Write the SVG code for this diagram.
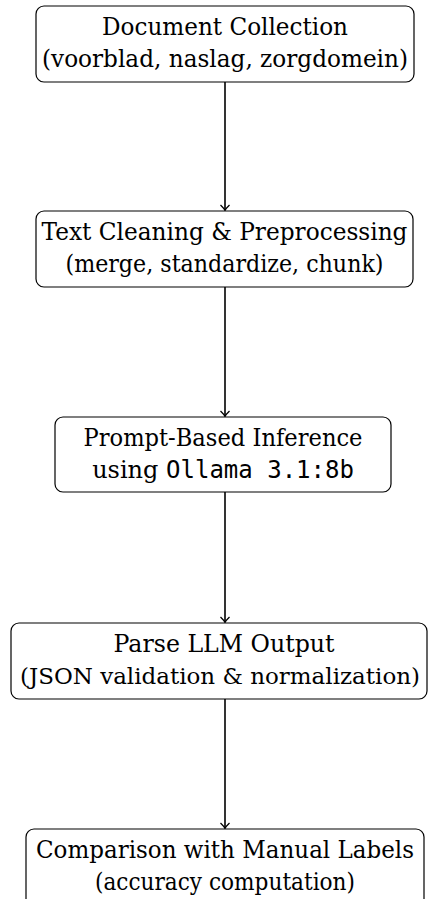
<svg xmlns="http://www.w3.org/2000/svg" width="429" height="899" viewBox="0 0 429 899">
<defs>
<style>
.box{fill:#fff;stroke:#000;stroke-width:1.2}
text{font-family:'DejaVu Serif',serif;font-size:24px;fill:#000;text-anchor:middle}
.m{font-family:'DejaVu Sans Mono',monospace;font-size:24px}
.edge{stroke:#000;stroke-width:1.6;fill:none}
</style>
<marker id="ah" markerWidth="12" markerHeight="12" viewBox="-6 -6 12 12" refX="0" refY="0" orient="auto" markerUnits="userSpaceOnUse">
<path d="M-5,-4.5 Q-1.5,-0.8 0.6,0 Q-1.5,0.8 -5,4.5" fill="none" stroke="#000" stroke-width="1.3"/>
</marker>
</defs>
<rect width="429" height="899" fill="#fff"/>
<g id="connectors">
<line class="edge" x1="225" y1="82" x2="225" y2="210" marker-end="url(#ah)"/>
<line class="edge" x1="225" y1="287" x2="225" y2="416" marker-end="url(#ah)"/>
<line class="edge" x1="225" y1="492" x2="225" y2="622" marker-end="url(#ah)"/>
<line class="edge" x1="225" y1="699" x2="225" y2="828" marker-end="url(#ah)"/>
</g>
<g id="n1">
<rect class="box" x="36" y="6" width="378" height="76" rx="8"/>
<text x="225" y="34.8" textLength="246" lengthAdjust="spacingAndGlyphs">Document Collection</text>
<text x="225" y="66.5" textLength="366" lengthAdjust="spacingAndGlyphs">(voorblad, naslag, zorgdomein)</text>
</g>
<g id="n2">
<rect class="box" x="36" y="211" width="377" height="76" rx="8"/>
<text x="224.5" y="239.8" textLength="366" lengthAdjust="spacingAndGlyphs">Text Cleaning &amp; Preprocessing</text>
<text x="224.5" y="271.5" textLength="318" lengthAdjust="spacingAndGlyphs">(merge, standardize, chunk)</text>
</g>
<g id="n3">
<rect class="box" x="55" y="417" width="336" height="75" rx="8"/>
<text x="223" y="445.8" textLength="279" lengthAdjust="spacingAndGlyphs">Prompt-Based Inference</text>
<text x="223" y="477.5">using <tspan class="m">Ollama 3.1:8b</tspan></text>
</g>
<g id="n4">
<rect class="box" x="11" y="623" width="416" height="76" rx="8"/>
<text x="224" y="651.8" textLength="221" lengthAdjust="spacingAndGlyphs">Parse LLM Output</text>
<text x="220" y="683.5" style="font-size:22.5px" textLength="400" lengthAdjust="spacingAndGlyphs">(JSON validation &amp; normalization)</text>
</g>
<g id="n5">
<rect class="box" x="26" y="829" width="398" height="80" rx="8"/>
<text x="225" y="857.8" textLength="378" lengthAdjust="spacingAndGlyphs">Comparison with Manual Labels</text>
<text x="225" y="889.5" textLength="260" lengthAdjust="spacingAndGlyphs">(accuracy computation)</text>
</g>
</svg>
